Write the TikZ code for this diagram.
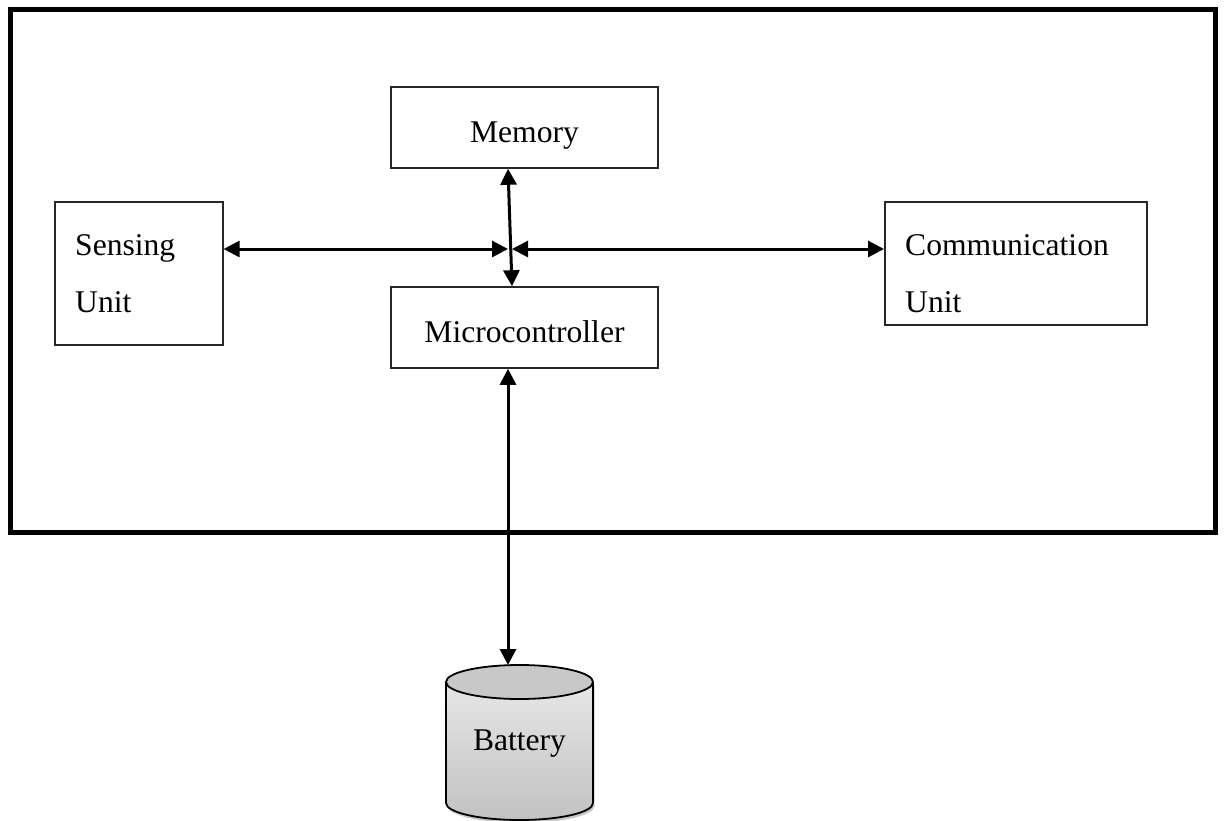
\documentclass[tikz,border=0pt]{standalone}
\usepackage{fontspec}
\setmainfont{Liberation Serif}
\usetikzlibrary{arrows.meta,calc}
\definecolor{capgray}{HTML}{C8C8C8}
\definecolor{bodytop}{HTML}{E6E6E6}
\definecolor{bodybottom}{HTML}{C2C2C2}
\begin{document}
\begin{tikzpicture}[x=1pt,y=-1pt,
  every node/.style={font=\fontsize{31.6}{57}\selectfont},
  unitbox/.style={draw=black!85, line width=1.6pt, fill=white,
    minimum width=267pt, minimum height=81pt, inner sep=0pt,
    text height=30pt, text depth=0pt},
  lbl/.style={anchor=base west, inner sep=0pt},
  link/.style={line width=3pt,
    {Triangle[length=16pt,width=16pt]}-{Triangle[length=16pt,width=16pt]}},
  cyl/.style={line width=1.8pt},
]
\useasboundingbox (0,0) rectangle (1225,821);

% sensor node enclosure
\node[draw, line width=5pt, minimum width=1205pt, minimum height=522pt,
  inner sep=0pt] (frame) at (612.5,271) {};

% functional units
\node[unitbox] (mem) at (524.5,127.5) {Memory};
\node[unitbox] (micro) at (524.5,327.5) {Microcontroller};
\node[unitbox, minimum width=168pt, minimum height=143pt, anchor=north west]
  (sense) at (54,201) {};
\node[lbl] (senselbl) at ([shift={(21,54)}]sense.north west)
  {\begin{tabular}[t]{@{}l@{}}Sensing\\Unit\end{tabular}};
\node[unitbox, minimum width=262pt, minimum height=123pt, anchor=north west]
  (comm) at (884,201) {};
\node[lbl] (commlbl) at ([shift={(21,54)}]comm.north west)
  {\begin{tabular}[t]{@{}l@{}}Communication\\Unit\end{tabular}};

% data paths
\coordinate (hub) at (510,249);
\draw[link] (sense.east |- hub) -- ([xshift=-2pt]hub);
\draw[link] ([xshift=2pt]hub) -- (comm.west |- hub);
\draw[link] ([xshift=-16.5pt]mem.south) -- ([xshift=-12.5pt]micro.north);

% battery cylinder
\fill[black!22] (447.5,685) -- (447.5,806)
  arc[start angle=180, end angle=0, x radius=73.5, y radius=17]
  -- (594.5,685) -- cycle;
\shade[top color=bodytop, bottom color=bodybottom] (446,682) -- (446,803)
  arc[start angle=180, end angle=0, x radius=73.5, y radius=17]
  -- (593,682) -- cycle;
\draw[cyl] (446,682) -- (446,803)
  arc[start angle=180, end angle=0, x radius=73.5, y radius=17]
  -- (593,682);
\draw[cyl, fill=capgray] (519.5,682) ellipse[x radius=73.5, y radius=17];
\node[anchor=base, inner sep=0pt] (bat) at (519.5,750) {Battery};
\coordinate (battop) at (508,665);

% power path
\draw[link] ([xshift=-16.5pt]micro.south) -- (battop);
\end{tikzpicture}
\end{document}
